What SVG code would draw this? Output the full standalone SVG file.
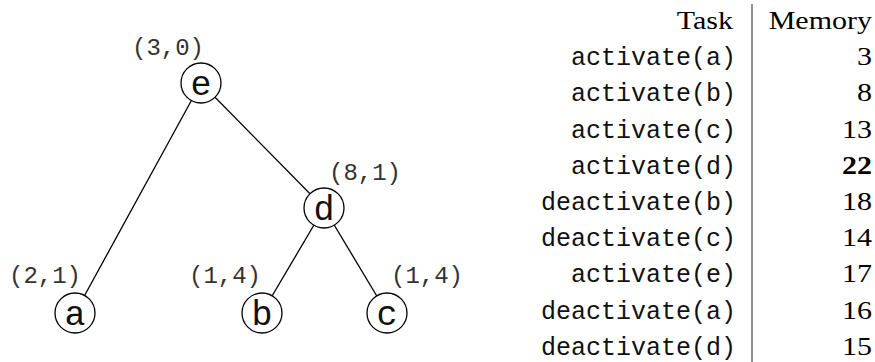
<svg xmlns="http://www.w3.org/2000/svg" width="875" height="362" viewBox="0 0 875 362">
<style>
.node circle{fill:#fff;stroke:#000;stroke-width:1.3}
.nl{font-family:"Liberation Mono",monospace;font-size:35px;text-anchor:middle;fill:#111}
.lab{font-family:"Liberation Mono",monospace;font-size:24px;fill:#333}
.task{font-family:"Liberation Mono",monospace;font-size:25px;text-anchor:end;fill:#111}
.num{font-family:"Liberation Serif",serif;font-size:25px;text-anchor:end;fill:#000}
.edge{stroke:#000;stroke-width:1.3;fill:none}
</style>
<g id="connectors">
<line class="edge" x1="201" y1="83" x2="75" y2="313"/>
<line class="edge" x1="201" y1="83" x2="324" y2="208"/>
<line class="edge" x1="324" y1="208" x2="262" y2="313"/>
<line class="edge" x1="324" y1="208" x2="387" y2="313"/>
</g>
<g id="node-e" class="node"><circle cx="201" cy="83" r="20"/><text class="nl" x="201" y="95">e</text><text class="lab" x="132" y="55">(3,0)</text></g>
<g id="node-d" class="node"><circle cx="324" cy="208" r="20"/><text class="nl" x="324" y="220">d</text><text class="lab" x="329" y="180">(8,1)</text></g>
<g id="node-a" class="node"><circle cx="75" cy="313" r="20"/><text class="nl" x="75" y="325">a</text><text class="lab" x="9" y="283">(2,1)</text></g>
<g id="node-b" class="node"><circle cx="262" cy="313" r="20"/><text class="nl" x="262" y="325">b</text><text class="lab" x="189" y="283">(1,4)</text></g>
<g id="node-c" class="node"><circle cx="387" cy="313" r="20"/><text class="nl" x="387" y="325">c</text><text class="lab" x="391" y="283">(1,4)</text></g>
<g id="table">
<line x1="752" y1="4" x2="752" y2="362" stroke="#555" stroke-width="1.3"/>
<text class="num" transform="translate(733,28.5) scale(1.2,1)">Task</text>
<text class="num" transform="translate(872,28.5) scale(1.2,1)">Memory</text>
<text class="task" x="736" y="65">activate(a)</text>
<text class="task" x="736" y="101">activate(b)</text>
<text class="task" x="736" y="137.5">activate(c)</text>
<text class="task" x="736" y="173.5">activate(d)</text>
<text class="task" x="736" y="210">deactivate(b)</text>
<text class="task" x="736" y="246">deactivate(c)</text>
<text class="task" x="736" y="282">activate(e)</text>
<text class="task" x="736" y="318.5">deactivate(a)</text>
<text class="task" x="736" y="354.5">deactivate(d)</text>
<text class="num" transform="translate(872,65) scale(1.2,1)">3</text>
<text class="num" transform="translate(872,101) scale(1.2,1)">8</text>
<text class="num" transform="translate(872,137.5) scale(1.2,1)">13</text>
<text class="num" transform="translate(872,173.5) scale(1.2,1)" font-weight="bold">22</text>
<text class="num" transform="translate(872,210) scale(1.2,1)">18</text>
<text class="num" transform="translate(872,246) scale(1.2,1)">14</text>
<text class="num" transform="translate(872,282) scale(1.2,1)">17</text>
<text class="num" transform="translate(872,318.5) scale(1.2,1)">16</text>
<text class="num" transform="translate(872,354.5) scale(1.2,1)">15</text>
</g>
</svg>
